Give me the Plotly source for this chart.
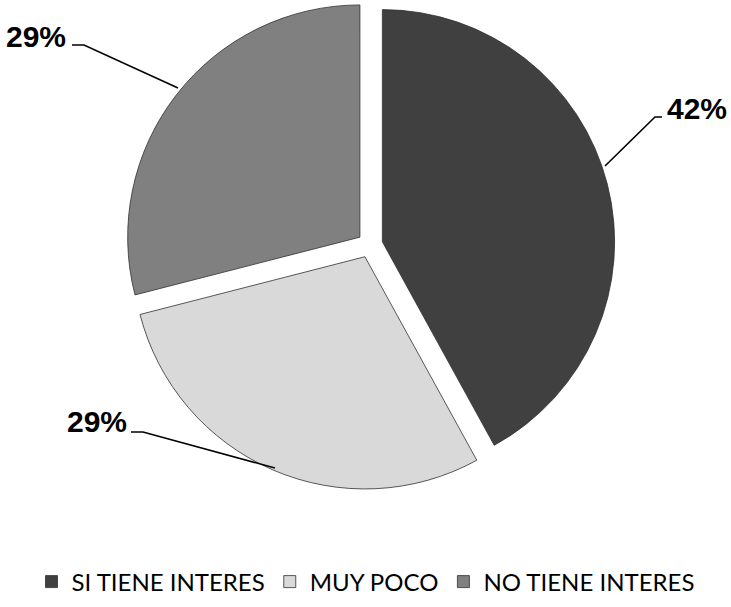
import plotly.graph_objects as go

categories = ["SI TIENE INTERES", "MUY POCO", "NO TIENE INTERES"]
values = [42, 29, 29]
label_texts = ["42%", "29%", "29%"]
colors = ["#404040", "#d9d9d9", "#808080"]

W, H = 731, 607

def px(x, y):
    return x / W, 1 - y / H

fig = go.Figure()
fig.add_trace(go.Pie(
    labels=categories,
    values=values,
    sort=False,
    direction="clockwise",
    rotation=0,
    pull=[0.055, 0.055, 0.055],
    textinfo="none",
    hoverinfo="label+percent",
    marker=dict(colors=colors, line=dict(color="#303030", width=0.8)),
    domain=dict(x=[(370 - 248) / W, (370 + 248) / W], y=[1 - 490 / H, 1.0]),
))

# labels and leader lines
label_pos = [(697, 108), (97, 421), (36, 37)]
leader_paths = [
    [(605, 166), (655, 117), (662, 117)],
    [(275, 468), (143, 432), (131, 432)],
    [(178, 88), (84, 45), (72, 45)],
]
annotations = []
shapes = []
for txt, (lx, ly), path in zip(label_texts, label_pos, leader_paths):
    x, y = px(lx, ly)
    annotations.append(dict(x=x, y=y, xref="paper", yref="paper", text="<b>%s</b>" % txt,
                            xanchor="center", yanchor="middle",
                            showarrow=False, font=dict(family="Liberation Sans, Arial", size=30, color="black")))
    pts = [px(a, b) for a, b in path]
    d = "M %f %f " % pts[0] + " ".join("L %f %f" % p for p in pts[1:])
    shapes.append(dict(type="path", path=d, xref="paper", yref="paper",
                       line=dict(color="black", width=1.6)))

fig.update_layout(
    width=W, height=H,
    margin=dict(l=0, r=0, t=0, b=0),
    paper_bgcolor="white",
    plot_bgcolor="white",
    annotations=annotations,
    shapes=shapes,
    showlegend=True,
    legend=dict(orientation="h", x=0.5, xanchor="center", y=1 - 582 / H, yanchor="middle",
                font=dict(family="Lato, Liberation Sans Narrow, sans-serif", size=24, color="black"),
                itemwidth=30, traceorder="normal"),
)

fig.write_html("out.html")
